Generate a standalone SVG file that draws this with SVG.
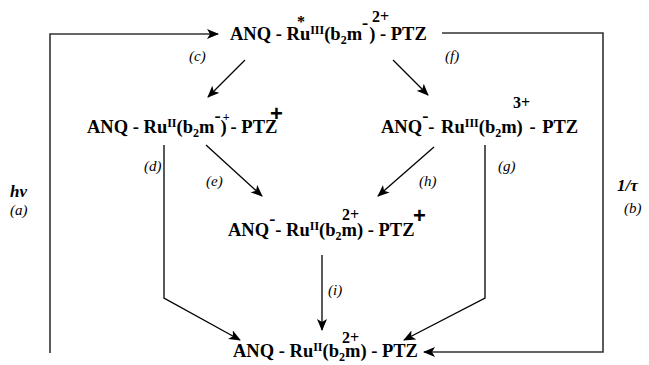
<svg xmlns="http://www.w3.org/2000/svg" width="649" height="365" viewBox="0 0 649 365">
<style>
text{font-family:'Liberation Serif','Times New Roman',Times,serif;fill:#000}
.f{font-weight:bold;font-size:18.5px}
.s{font-size:12px}
.c{font-weight:bold;font-size:16px}
.p{font-family:'Liberation Sans',Arial,sans-serif;font-weight:bold;font-size:22px}
.l{font-style:italic;font-size:15px}
.ln{fill:none;stroke:#000;stroke-width:1.3}
.lp{fill:none;stroke:#333;stroke-width:1.6}
</style>
<defs>
<marker id="ah" viewBox="0 0 12 10" refX="11" refY="5" markerWidth="12" markerHeight="10" markerUnits="userSpaceOnUse" orient="auto">
<path d="M0,0 L12,5 L0,10 L3,5 Z" fill="#000"/>
</marker>
</defs>
<g id="connectors">
<polyline class="lp" points="50,353 50,34 218,34" marker-end="url(#ah)"/>
<polyline class="lp" points="442,33 603,33 603,352 424,352" marker-end="url(#ah)"/>
<line class="ln" x1="245" y1="60" x2="208" y2="97" marker-end="url(#ah)"/>
<line class="ln" x1="393" y1="60" x2="428" y2="95" marker-end="url(#ah)"/>
<polyline class="ln" points="164,145 164,298 240,340" marker-end="url(#ah)"/>
<polyline class="ln" points="485,145 485,298 404,340" marker-end="url(#ah)"/>
<line class="ln" x1="206" y1="145" x2="262" y2="196" marker-end="url(#ah)"/>
<line class="ln" x1="434" y1="147" x2="378" y2="196" marker-end="url(#ah)"/>
<line class="ln" x1="322" y1="255" x2="322" y2="330" marker-end="url(#ah)"/>
</g>
<g id="n_top">
<text class="f" x="230" y="40">ANQ - Ru<tspan class="s" dy="-6">III</tspan><tspan dy="6">(b</tspan><tspan class="s" dy="4">2</tspan><tspan dy="-4">m</tspan><tspan dy="-11">-</tspan><tspan dy="11" dx="1">) - PTZ</tspan></text>
<text class="c" x="297" y="27">*</text>
<text class="c" x="372" y="22">2+</text>
</g>
<g id="n_left">
<text class="f" x="87" y="133">ANQ - Ru<tspan class="s" dy="-6">II</tspan><tspan dy="6">(b</tspan><tspan class="s" dy="4">2</tspan><tspan dy="-4">m</tspan><tspan dy="-11">-</tspan><tspan dy="11">)</tspan><tspan class="s" dx="-4" dy="-12">+</tspan><tspan dy="12" dx="1">- PTZ</tspan></text>
<text class="p" x="270" y="121">+</text>
</g>
<g id="n_right">
<text class="f" x="381" y="133" word-spacing="2">ANQ<tspan dy="-11">-</tspan><tspan dy="11">- Ru</tspan><tspan class="s" dy="-6">III</tspan><tspan dy="6">(b</tspan><tspan class="s" dy="4">2</tspan><tspan dy="-4">m) - PTZ</tspan></text>
<text class="c" x="513" y="108">3+</text>
</g>
<g id="n_mid">
<text class="f" x="228" y="236">ANQ<tspan dy="-11">-</tspan><tspan dy="11">- Ru</tspan><tspan class="s" dy="-6">II</tspan><tspan dy="6">(b</tspan><tspan class="s" dy="4">2</tspan><tspan dy="-4">m) - PTZ</tspan></text>
<text class="c" x="342" y="220">2+</text>
<text class="p" x="413" y="223">+</text>
</g>
<g id="n_bot">
<text class="f" x="233" y="357">ANQ - Ru<tspan class="s" dy="-6">II</tspan><tspan dy="6">(b</tspan><tspan class="s" dy="4">2</tspan><tspan dy="-4">m) - PTZ</tspan></text>
<text class="c" x="342" y="343">2+</text>
</g>
<g id="labels">
<text class="l" x="189" y="61">(c)</text>
<text class="l" x="445" y="61">(f)</text>
<text class="l" x="144" y="171">(d)</text>
<text class="l" x="206" y="186">(e)</text>
<text class="l" x="419" y="186">(h)</text>
<text class="l" x="498" y="171">(g)</text>
<text class="l" x="328" y="295">(i)</text>
<text class="l" x="10" y="197" style="font-weight:bold;font-size:17px">hν</text>
<text class="l" x="10" y="215">(a)</text>
<text class="l" x="617" y="191" style="font-weight:bold;font-size:17px">1/τ</text>
<text class="l" x="624" y="213">(b)</text>
</g>
</svg>
